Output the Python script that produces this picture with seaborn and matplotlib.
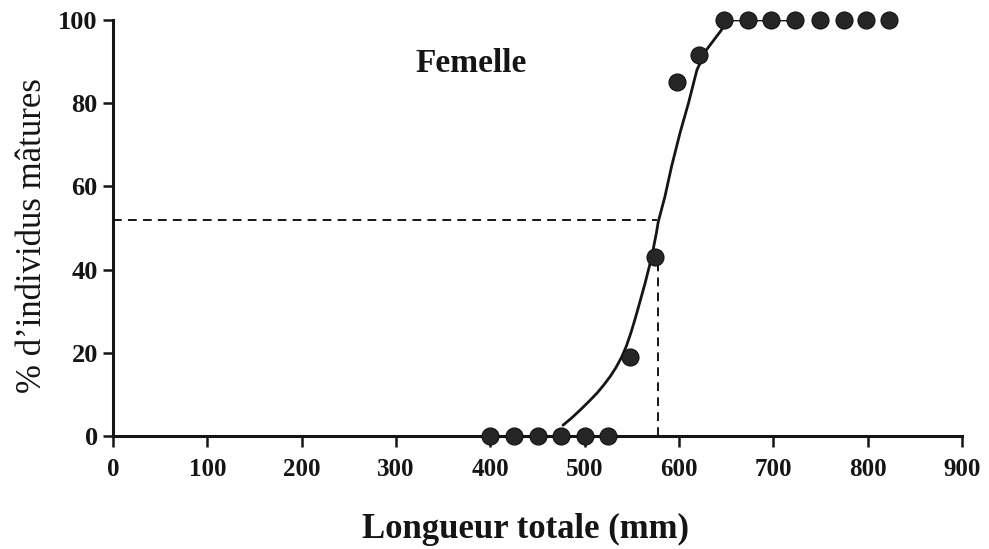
import numpy as np
import pandas as pd
import matplotlib
matplotlib.use("Agg")
import matplotlib.pyplot as plt
import seaborn as sns

# Observed proportion of mature females per length class
longueur = [400, 425, 450, 475, 500, 525, 548, 575, 598, 621,
            648, 673, 698, 723, 749, 775, 798, 823]
pct_matures = [0, 0, 0, 0, 0, 0, 19, 43, 85, 91.5,
               100, 100, 100, 100, 100, 100, 100, 100]

# Fitted maturity ogive (smoothed curve through the observations)
ogive_L = [477, 486, 495, 504, 513, 520, 527, 533, 539, 544, 549, 553,
           557, 564, 571, 576, 578, 585, 592, 601, 610, 619, 629, 645, 650, 725]
ogive_P = [2.6, 4.3, 6.2, 8.2, 10.3, 12.2, 14.3, 16.4, 18.9, 21.5, 24.8, 27.8,
           31, 36.7, 43, 48.8, 51.5, 57.5, 64.7, 72.8, 80, 88, 92.8, 97.6, 100, 100]

# Length at 50 % maturity and guide-line extents
L50 = 577
niveau_h = 52
haut_v = 41.5

x_ticks = [0, 100, 200, 300, 400, 500, 600, 700, 800, 900]
y_ticks = [0, 20, 40, 60, 80, 100]

sns.set_style("ticks")
plt.rcParams["font.family"] = ["Liberation Serif", "DejaVu Serif"]

fig = plt.figure(figsize=(9.89, 5.49), dpi=100)
ax = fig.add_axes([0.1143, 0.2058, 0.8584, 0.7578])

obs = pd.DataFrame({"L": longueur, "P": pct_matures})
fit = pd.DataFrame({"L": ogive_L, "P": ogive_P})

ink = "#151515"

# Guide lines at the length of first maturity
ax.plot([0, L50], [niveau_h, niveau_h], ls=(0, (4.5, 3.2)), color=ink, lw=1.4, zorder=2)
ax.plot([L50 + 1, L50 + 1], [0, haut_v], ls=(0, (4.5, 3.2)), color=ink, lw=1.4, zorder=2)

sns.lineplot(data=fit, x="L", y="P", ax=ax, color=ink, lw=2.0, sort=False, zorder=3)
sns.scatterplot(data=obs, x="L", y="P", ax=ax, color="#262626", s=150,
                edgecolor="#101010", linewidth=0.8, zorder=4, clip_on=False)

ax.set_xlim(0, 900)
ax.set_ylim(0, 100)
ax.set_xticks(x_ticks)
ax.set_yticks(y_ticks)
ax.set_xticklabels([str(t) for t in x_ticks], fontsize=18, fontweight="bold", color=ink)
ax.set_yticklabels([str(t) for t in y_ticks], fontsize=19, fontweight="bold", color=ink)
ax.tick_params(axis="x", length=8, width=1.8, pad=8, color=ink)
ax.tick_params(axis="y", length=7, width=1.8, pad=4, color=ink)

sns.despine(ax=ax)
for s in ("left", "bottom"):
    ax.spines[s].set_linewidth(2.2)
    ax.spines[s].set_color(ink)

ax.set_xlabel("Longueur totale (mm)", fontsize=25, fontweight="bold", color=ink)
ax.xaxis.set_label_coords(0.486, -0.185)
ax.set_ylabel("% d\u2019individus mâtures", fontsize=25, color=ink)
ax.yaxis.set_label_coords(-0.075, 0.483)

ax.text(380, 89.5, "Femelle", fontsize=24, fontweight="bold", color=ink,
        ha="center", va="center")

fig.savefig("out.png", dpi=100, facecolor="white")
